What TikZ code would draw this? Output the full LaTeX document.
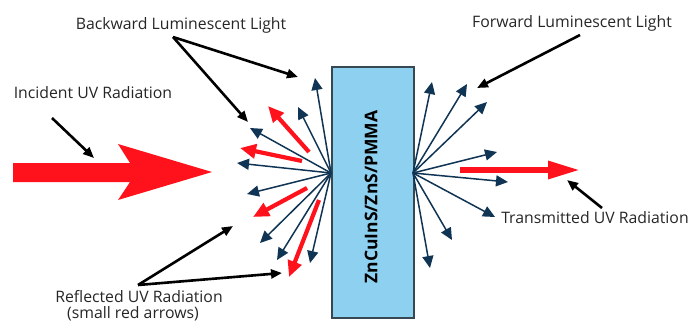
\documentclass[tikz,border=0pt]{standalone}
\usepackage{fontspec}
\setmainfont{Open Sans}
\usetikzlibrary{arrows.meta}
\definecolor{navy}{RGB}{16,52,84}
\definecolor{uvred}{RGB}{255,18,28}
\definecolor{film}{RGB}{142,208,240}
\definecolor{filmedge}{RGB}{55,72,82}
\tikzset{
  lum/.style={draw=navy, line width=1.5pt, -{Triangle[length=12pt,width=11pt]}},
  refl/.style={draw=uvred, line width=4.2pt, -{Triangle[length=16pt,width=14pt]}},
  pointer/.style={draw=black, line width=2.6pt, -{Triangle[length=11pt,width=9pt]}},
  lbl/.style={font=\fontsize{15.8}{17}\selectfont, text=black!85, inner sep=0pt},
}
\begin{document}
\begin{tikzpicture}[x=1pt,y=-1pt]
\useasboundingbox (0,0) rectangle (692,322);
% film
\node[draw=filmedge, line width=1.5pt, fill=film, minimum width=82pt, minimum height=251pt, inner sep=0pt, anchor=north west] (film) at (331,66) {};
\node[rotate=90, font=\fontsize{17.5}{19}\selectfont\bfseries, text=black] (filmlbl) at (371,197) {ZnCuInS/ZnS/PMMA};
% incident arrow
\fill[uvred] (13,163) -- (130,163) -- (118,144) -- (212,172) -- (118,200) -- (130,182) -- (13,182) -- cycle;
% fan origins
\coordinate (L) at (331,173);
\coordinate (R) at (413,173);
% backward luminescent
\foreach \n/\a/\b in {b1/315/78, b2/298/107, b3/250/128, b4/237/163, b5/247/194, b6/260/243, b7/277/260, b8/310/263}{
  \coordinate (\n) at (\a,\b);
  \draw[lum] (L) -- (\n);
}
% reflected
\coordinate (r1s) at (309,152); \coordinate (r1) at (268,106);
\coordinate (r2s) at (302,161); \coordinate (r2) at (240,148);
\coordinate (r3s) at (307,188); \coordinate (r3) at (253,217);
\coordinate (r4s) at (319,200); \coordinate (r4) at (289,277);
\draw[refl] (r1s) -- (r1);
\draw[refl] (r2s) -- (r2);
\draw[refl] (r3s) -- (r3);
\draw[refl] (r4s) -- (r4);
% forward luminescent
\foreach \n/\a/\b in {f1/432/82, f2/467/84, f3/487/102, f4/497/152, f5/508/182, f6/495/217, f7/452/240, f8/430/268}{
  \coordinate (\n) at (\a,\b);
  \draw[lum] (R) -- (\n);
}
% transmitted
\coordinate (ts) at (460,170); \coordinate (te) at (580,170);
\draw[draw=uvred, line width=6pt, -{Triangle[length=32pt,width=17pt]}] (ts) -- (te);
% labels
\node[lbl] (back) at (181,25) {Backward Luminescent Light};
\node[lbl] (inc) at (93,93) {Incident UV Radiation};
\node[lbl] (fwd) at (572,23) {Forward Luminescent Light};
\node[lbl] (trans) at (595,218) {Transmitted UV Radiation};
\node[lbl] (refl1) at (139,297) {Reflected UV Radiation};
\node[lbl, anchor=north] (refl2) at (133,306) {(small red arrows)};
% pointers
\coordinate (pi1) at (52,118); \coordinate (pi2) at (94,158);
\draw[pointer] (pi1) -- (pi2);
\coordinate (pb) at (173,37); \coordinate (pb1) at (298,77); \coordinate (pb2) at (248,122);
\draw[pointer] (pb) -- (pb1);
\draw[pointer] (pb) -- (pb2);
\coordinate (pr) at (138,285); \coordinate (pr1) at (233,226); \coordinate (pr2) at (282,273);
\draw[pointer] (pr) -- (pr1);
\draw[pointer] (pr) -- (pr2);
\coordinate (pf) at (580,35); \coordinate (pf1) at (477,88);
\draw[pointer] (pf) -- (pf1);
\coordinate (pt) at (602,208); \coordinate (pt1) at (567,180);
\draw[pointer] (pt) -- (pt1);
\end{tikzpicture}
\end{document}
